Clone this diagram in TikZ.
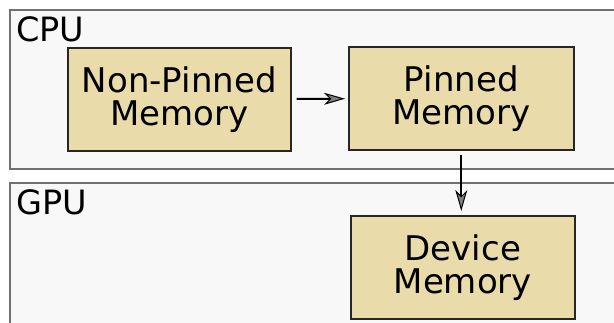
\documentclass[tikz,border=0pt]{standalone}
\usepackage{fontspec}
\setmainfont{DejaVu Sans}
\usetikzlibrary{arrows.meta}
\definecolor{panelfill}{HTML}{F8F8F8}
\definecolor{panelline}{HTML}{707070}
\definecolor{memfill}{HTML}{E9DBAA}
\definecolor{headfill}{HTML}{7F7F7F}
\tikzset{
  panel/.style={draw=panelline, fill=panelfill, line width=1.6pt},
  memory/.style={draw=black!85, fill=memfill, line width=1.6pt, align=center,
    inner sep=0pt, font=\fontsize{34}{33}\selectfont},
  title/.style={anchor=base west, inner sep=0pt, font=\fontsize{33.5}{33}\selectfont},
  flow/.style={line width=2pt, -{Stealth[length=21pt, width=12pt, inset=6pt, fill=headfill, line width=1pt]}}
}
\begin{document}
\begin{tikzpicture}[x=1pt, y=-1pt]
  \useasboundingbox (0,0) rectangle (614,323);
  \clip (0,0) rectangle (614,323);
  % host and device panels, running off the right and bottom edges
  \path[panel] (10,10) rectangle (630,169);
  \path[panel] (10,183) rectangle (630,340);
  \node[title] (cpu) at (16,42) {CPU};
  \node[title] (gpu) at (16,215) {GPU};
  % memory blocks
  \node[memory, minimum width=223pt, minimum height=103pt, anchor=north west] (np) at (67,47) {Non-Pinned\\Memory};
  \node[memory, minimum width=225pt, minimum height=103pt, anchor=north west] (pin) at (348,46) {Pinned\\Memory};
  \node[memory, minimum width=224pt, minimum height=103pt, anchor=north west] (dev) at (350,215) {Device\\Memory};
  % copies
  \draw[flow, shorten <=5pt, shorten >=3pt] (np) -- (pin);
  \draw[flow, shorten <=4pt, shorten >=4pt] (pin.south) -- (pin.south |- dev.north);
\end{tikzpicture}
\end{document}
